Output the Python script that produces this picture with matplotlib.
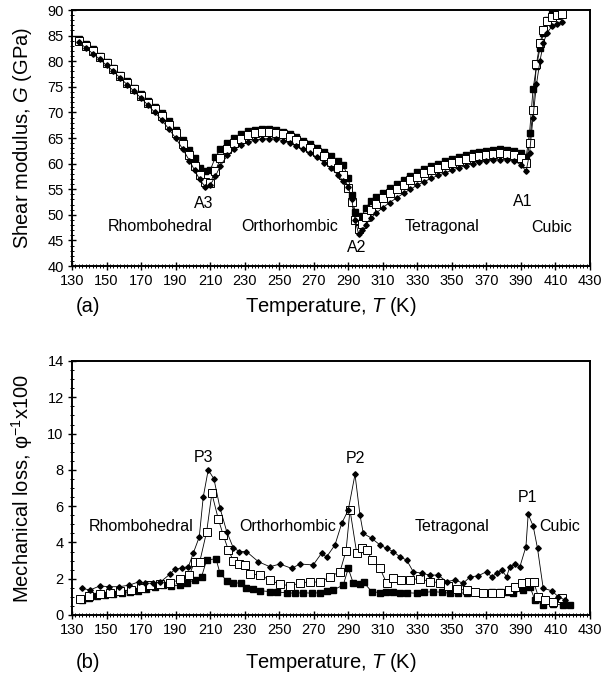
import matplotlib
matplotlib.use("Agg")
import matplotlib.pyplot as plt
from matplotlib.ticker import MultipleLocator

plt.rcParams['font.family'] = ['Liberation Sans', 'DejaVu Sans']
plt.rcParams['mathtext.fontset'] = 'custom'
plt.rcParams['mathtext.rm'] = 'Liberation Sans'
plt.rcParams['mathtext.it'] = 'Liberation Sans:italic'

# ---------------- Top panel: shear modulus ----------------
T_top = [134, 138, 142, 146, 150, 154, 158, 162, 166, 170, 174, 178, 182, 186, 190, 194, 198,
         201, 204, 207, 210, 213, 216,
         220, 224, 228, 232, 236, 240, 244, 248, 252, 256, 260, 264, 268, 272, 276, 280, 284,
         287, 290, 292, 294, 296, 298, 300, 303, 306,
         310, 314, 318, 322, 326, 330, 334, 338, 342, 346, 350, 354, 358, 362, 366, 370, 374, 378,
         382, 386, 390,
         393, 395, 397, 399, 401, 403, 405, 408, 411, 414]

G_filled = [84.3, 83.3, 82.3, 81.1, 79.9, 78.7, 77.4, 76.1, 74.8, 73.5, 72.2, 71.0, 69.8, 68.3, 66.6, 64.7, 62.6,
            61.0, 59.2, 58.6, 58.7, 61.2, 62.9,
            64.1, 65.0, 65.8, 66.3, 66.6, 66.7, 66.7, 66.5, 66.2, 65.8, 65.2, 64.5, 63.8, 63.1, 62.3, 61.4, 60.5,
            59.8, 57.2, 53.8, 50.5, 48.5, 49.8, 51.3, 52.6, 53.5,
            54.3, 55.2, 56.0, 56.8, 57.6, 58.3, 58.9, 59.5, 60.0, 60.5, 60.9, 61.3, 61.7, 62.0, 62.3, 62.5, 62.7, 62.8,
            62.7, 62.5, 62.1,
            61.2, 66.0, 74.5, 79.0, 82.5, 85.5, 88.0, 89.2, 89.5, 89.6]

G_open = [84.0, 83.0, 81.9, 80.8, 79.6, 78.4, 77.1, 75.8, 74.5, 73.2, 71.9, 70.6, 69.2, 67.6, 65.9, 63.9, 61.6,
          59.6, 57.8, 56.5, 56.2, 58.5, 61.0,
          62.9, 64.0, 64.9, 65.5, 65.9, 66.1, 66.1, 66.0, 65.7, 65.2, 64.6, 63.9, 63.1, 62.3, 61.4, 60.4, 59.2,
          57.8, 55.3, 52.5, 49.0, 47.2, 48.3, 49.6, 51.0, 52.1,
          53.2, 54.2, 55.1, 55.9, 56.7, 57.4, 58.1, 58.7, 59.2, 59.7, 60.1, 60.5, 60.9, 61.2, 61.5, 61.7, 61.9, 62.0,
          61.9, 61.6, 61.1,
          60.1, 64.0, 70.5, 79.5, 83.5, 86.0, 87.8, 88.6, 89.0, 89.2]

G_diamond = [83.7, 82.6, 81.5, 80.4, 79.2, 78.0, 76.7, 75.4, 74.1, 72.8, 71.4, 70.0, 68.5, 66.8, 65.0, 62.9, 60.6,
             58.7, 56.9, 55.5, 55.8, 57.5, 59.6,
             61.6, 62.8, 63.6, 64.2, 64.6, 64.8, 64.9, 64.8, 64.5, 64.0, 63.4, 62.8, 62.0, 61.2, 60.2, 59.1, 57.8,
             56.6, 55.5, 53.0, 49.0, 46.2, 47.0, 48.0, 49.3, 50.3,
             51.4, 52.4, 53.3, 54.2, 55.0, 55.8, 56.5, 57.1, 57.7, 58.2, 58.7, 59.2, 59.6, 60.0, 60.3, 60.5, 60.7, 60.8,
             60.8, 60.5, 59.8,
             58.5, 62.0, 69.0, 75.5, 80.0, 83.5, 85.5, 86.8, 87.3, 87.6]

# ---------------- Bottom panel: mechanical loss ----------------
T_loss_diamond = [135.6, 140.5, 146, 151.7, 157.5, 163.3, 169, 172, 177, 181, 186.8, 189.7, 193.5, 197.4,
                  200.2, 203.7, 206, 208.9, 212.2, 215.7, 219.6, 223.4, 227, 231, 237.9, 244.6, 250.4,
                  257.2, 262, 269.7, 274.5, 277.4, 282.3, 286.2, 290, 293.9, 296.8, 298.7, 303.5, 308.4,
                  312.2, 316, 320, 323.8, 327.6, 332.5, 337.3, 342, 347, 351.8, 356.6, 360.5, 365.3,
                  370.1, 373, 376, 378.8, 381.7, 383.6, 386.5, 389.4, 392.9, 394.2, 397.1, 399.6, 402.9,
                  407.8, 411.6, 415.5]
loss_diamond = [1.47, 1.38, 1.6, 1.56, 1.56, 1.65, 1.84, 1.75, 1.75, 1.8, 2.26, 2.52, 2.6, 2.66,
                3.4, 4.3, 6.5, 8.0, 7.5, 5.9, 4.6, 3.7, 3.5, 3.5, 2.94, 2.66, 2.81,
                2.57, 2.81, 2.76, 3.4, 3.2, 3.86, 5.05, 5.79, 7.75, 5.5, 4.5, 4.23, 3.86,
                3.67, 3.5, 3.2, 3.03, 2.39, 2.3, 2.2, 2.2, 1.84, 1.93, 1.75, 2.1, 2.16,
                2.39, 2.1, 2.3, 2.48, 2.11, 2.66, 2.8, 2.66, 3.77, 5.55, 4.9, 3.67, 1.47,
                1.34, 1.01, 0.83]

T_loss_open = [134.6, 140, 146, 152, 158, 164, 170, 175, 181, 187, 192.5, 198, 201, 204, 208, 211,
               214.7, 217.6, 220.5, 223.4, 227, 230, 233, 238.9, 244.6, 250.4, 256.2, 262, 267.8,
               273.6, 279.4, 285.2, 288.7, 291, 294.9, 297.8, 301, 303.5, 308.4, 312.2, 316, 320.8,
               325.8, 331.6, 337.3, 343.2, 348, 352.8, 358.6, 363.4, 368.3, 373, 378, 382.8, 386.7,
               390.5, 394.4, 397.3, 400.1, 404, 408.8, 413.6]
loss_open = [0.87, 1.07, 1.15, 1.24, 1.3, 1.38, 1.5, 1.65, 1.7, 1.75, 1.97, 2.2, 2.94, 2.94, 4.6, 6.7,
             5.3, 4.4, 3.6, 3.0, 2.8, 2.76, 2.26, 2.2, 1.93, 1.69, 1.62, 1.75, 1.84,
             1.8, 2.11, 2.39, 3.53, 5.8, 3.4, 3.67, 3.6, 3.03, 2.57, 1.75, 2.02, 1.95,
             1.95, 2.0, 1.84, 1.78, 1.6, 1.42, 1.38, 1.29, 1.2, 1.2, 1.23, 1.38, 1.56,
             1.75, 1.8, 1.84, 1.01, 0.83, 0.7, 0.94]

T_loss_filled = [135.6, 140, 144.3, 149, 154, 159, 163.6, 168, 173, 178, 182.8, 187.5, 192.5, 196.4,
                 201.2, 205, 208, 213.4, 215.7, 219.6, 223.4, 228, 231, 234.8, 238.9, 244.6, 249,
                 254.3, 259, 264, 269, 273.6, 277.5, 281.3, 287.1, 290, 292.9, 296.8, 299, 303.5,
                 308.4, 312, 316, 320, 323.8, 329.6, 334, 339.2, 344, 348.9, 353.5, 358.6, 363.5,
                 368.3, 373, 378, 382, 385.6, 391.4, 395.2, 398.1, 403, 408.8, 414.6, 418.5]
loss_filled = [0.83, 0.95, 1.07, 1.1, 1.16, 1.22, 1.29, 1.35, 1.42, 1.55, 1.65, 1.6, 1.65, 1.78,
               1.93, 2.1, 3.03, 3.1, 2.3, 1.89, 1.78, 1.75, 1.47, 1.42, 1.34, 1.29, 1.26,
               1.23, 1.2, 1.23, 1.2, 1.23, 1.3, 1.38, 1.65, 2.57, 1.75, 1.71, 1.8, 1.29,
               1.23, 1.25, 1.29, 1.2, 1.23, 1.2, 1.25, 1.29, 1.25, 1.2, 1.22, 1.2, 1.25,
               1.23, 1.25, 1.29, 1.25, 1.2, 1.38, 1.56, 0.83, 0.55, 0.6, 0.55, 0.55]

x_ticks = list(range(130, 431, 20))

top_labels = [("A3", 206, 52.3), ("Rhombohedral", 181, 47.8), ("Orthorhombic", 256, 47.8),
              ("A2", 295, 43.7), ("Tetragonal", 344, 47.8), ("A1", 391, 52.5), ("Cubic", 408, 47.6)]
bottom_labels = [("P3", 206, 8.7), ("Rhombohedral", 170, 4.9), ("Orthorhombic", 255, 4.9),
                 ("P2", 294, 8.65), ("P1", 394, 6.45), ("Tetragonal", 350, 4.9), ("Cubic", 412.6, 4.9)]

W, H = 602, 682
fig = plt.figure(figsize=(W / 100, H / 100), dpi=100)
ax1 = fig.add_axes([72 / W, 1 - 266 / H, 518 / W, 256 / H])
ax2 = fig.add_axes([72 / W, 1 - 615 / H, 518 / W, 254 / H])


def draw_series(ax, x, y, kind):
    if kind == "filled":
        ax.plot(x, y, '-', color='black', lw=0.6, marker='s', ms=4.4, mfc='black', mec='black', zorder=3)
    elif kind == "open":
        ax.plot(x, y, '-', color='black', lw=0.6, marker='s', ms=5.2, mfc='white', mec='black', mew=0.7, zorder=4)
    else:
        ax.plot(x, y, '-', color='black', lw=0.6, marker='D', ms=2.8, mfc='black', mec='black', zorder=5)


draw_series(ax1, T_top, G_filled, "filled")
draw_series(ax1, T_top, G_open, "open")
draw_series(ax1, T_top, G_diamond, "diamond")

draw_series(ax2, T_loss_filled, loss_filled, "filled")
draw_series(ax2, T_loss_open, loss_open, "open")
draw_series(ax2, T_loss_diamond, loss_diamond, "diamond")

for ax in (ax1, ax2):
    ax.set_xlim(130, 430)
    ax.set_xticks(x_ticks)
    ax.xaxis.set_minor_locator(MultipleLocator(2))
    ax.tick_params(axis='both', which='major', direction='inout', length=6, width=1.0,
                   labelsize=10.5, top=False, right=False, pad=3)
    ax.tick_params(axis='both', which='minor', direction='inout', length=3, width=0.7,
                   top=False, right=False)
    for s in ax.spines.values():
        s.set_linewidth(1.4)
        s.set_color('black')

ax1.set_ylim(40, 90)
ax1.set_yticks(list(range(40, 91, 5)))
ax1.yaxis.set_minor_locator(MultipleLocator(1))

ax2.set_ylim(0, 14)
ax2.set_yticks(list(range(0, 15, 2)))
ax2.yaxis.set_minor_locator(MultipleLocator(0.5))

for txt, x, y in top_labels:
    ax1.text(x, y, txt, ha='center', va='center', fontsize=11.5)
for txt, x, y in bottom_labels:
    ax2.text(x, y, txt, ha='center', va='center', fontsize=11.5)

fig.text(22 / W, 1 - 138 / H, "Shear modulus, $\\it{G}$ (GPa)", rotation=90,
         ha='center', va='center', fontsize=14.5)
fig.text(22 / W, 1 - 488 / H, "Mechanical loss, \u03c6$^{-1}$x100", rotation=90,
         ha='center', va='center', fontsize=14.5)
fig.text(331 / W, 1 - 306 / H, "Temperature, $\\it{T}$ (K)", ha='center', va='center', fontsize=14.5)
fig.text(331 / W, 1 - 662 / H, "Temperature, $\\it{T}$ (K)", ha='center', va='center', fontsize=14.5)
fig.text(88 / W, 1 - 306 / H, "(a)", ha='center', va='center', fontsize=14.5)
fig.text(88 / W, 1 - 662 / H, "(b)", ha='center', va='center', fontsize=14.5)

fig.savefig("out.png", dpi=100)
